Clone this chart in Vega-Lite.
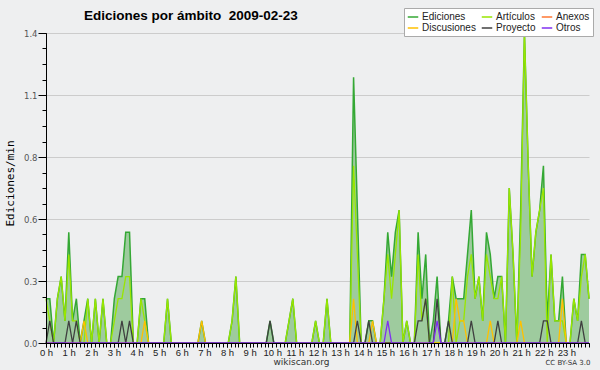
{
"$schema":"https://vega.github.io/schema/vega-lite/v6.json",
"width":543,"height":310,"autosize":{"type":"none"},
"padding":{"left":46,"top":33,"right":11,"bottom":27},
"background":"#eeeff0",
"config":{"view":{"stroke":null,"fill":"#eeeff0"}},
"title":{"text":"Ediciones por ámbito\u00a0\u00a02009-02-23","anchor":"start","frame":"group","dx":38,"offset":0,"dy":26,"baseline":"alphabetic","font":"Liberation Sans","fontSize":13.5,"fontWeight":"bold","color":"#000"},
"data":{"values":[
{"i":0,"E":0.2,"A":0.2,"D":0,"P":0,"O":0},
{"i":1,"E":0.2,"A":0.1,"D":0,"P":0.1,"O":0},
{"i":2,"E":0,"A":0,"D":0,"P":0,"O":0},
{"i":3,"E":0.2,"A":0.2,"D":0,"P":0,"O":0},
{"i":4,"E":0.3,"A":0.3,"D":0,"P":0,"O":0},
{"i":5,"E":0.1,"A":0.1,"D":0,"P":0,"O":0},
{"i":6,"E":0.5,"A":0.4,"D":0,"P":0.1,"O":0},
{"i":7,"E":0.1,"A":0.1,"D":0,"P":0,"O":0},
{"i":8,"E":0.2,"A":0.1,"D":0,"P":0.1,"O":0},
{"i":9,"E":0,"A":0,"D":0,"P":0,"O":0},
{"i":10,"E":0.1,"A":0,"D":0.1,"P":0,"O":0},
{"i":11,"E":0.2,"A":0.2,"D":0,"P":0,"O":0},
{"i":12,"E":0,"A":0,"D":0,"P":0,"O":0},
{"i":13,"E":0.2,"A":0.2,"D":0,"P":0,"O":0},
{"i":14,"E":0,"A":0,"D":0,"P":0,"O":0},
{"i":15,"E":0.2,"A":0.2,"D":0,"P":0,"O":0},
{"i":16,"E":0,"A":0,"D":0,"P":0,"O":0},
{"i":17,"E":0,"A":0,"D":0,"P":0,"O":0},
{"i":18,"E":0.2,"A":0.1,"D":0,"P":0,"O":0},
{"i":19,"E":0.3,"A":0.2,"D":0,"P":0,"O":0},
{"i":20,"E":0.3,"A":0.2,"D":0,"P":0.1,"O":0},
{"i":21,"E":0.5,"A":0.3,"D":0,"P":0,"O":0},
{"i":22,"E":0.5,"A":0.3,"D":0,"P":0.1,"O":0},
{"i":23,"E":0,"A":0,"D":0,"P":0,"O":0},
{"i":24,"E":0,"A":0,"D":0,"P":0,"O":0},
{"i":25,"E":0.2,"A":0.2,"D":0,"P":0,"O":0},
{"i":26,"E":0.2,"A":0.1,"D":0.1,"P":0,"O":0},
{"i":27,"E":0,"A":0,"D":0,"P":0,"O":0},
{"i":28,"E":0,"A":0,"D":0,"P":0,"O":0},
{"i":29,"E":0,"A":0,"D":0,"P":0,"O":0},
{"i":30,"E":0,"A":0,"D":0,"P":0,"O":0},
{"i":31,"E":0,"A":0,"D":0,"P":0,"O":0},
{"i":32,"E":0.2,"A":0.2,"D":0,"P":0,"O":0},
{"i":33,"E":0,"A":0,"D":0,"P":0,"O":0},
{"i":34,"E":0,"A":0,"D":0,"P":0,"O":0},
{"i":35,"E":0,"A":0,"D":0,"P":0,"O":0},
{"i":36,"E":0,"A":0,"D":0,"P":0,"O":0},
{"i":37,"E":0,"A":0,"D":0,"P":0,"O":0},
{"i":38,"E":0,"A":0,"D":0,"P":0,"O":0},
{"i":39,"E":0,"A":0,"D":0,"P":0,"O":0},
{"i":40,"E":0,"A":0,"D":0,"P":0,"O":0},
{"i":41,"E":0.1,"A":0,"D":0.1,"P":0,"O":0},
{"i":42,"E":0,"A":0,"D":0,"P":0,"O":0},
{"i":43,"E":0,"A":0,"D":0,"P":0,"O":0},
{"i":44,"E":0,"A":0,"D":0,"P":0,"O":0},
{"i":45,"E":0,"A":0,"D":0,"P":0,"O":0},
{"i":46,"E":0,"A":0,"D":0,"P":0,"O":0},
{"i":47,"E":0,"A":0,"D":0,"P":0,"O":0},
{"i":48,"E":0,"A":0,"D":0,"P":0,"O":0},
{"i":49,"E":0.1,"A":0.1,"D":0,"P":0,"O":0},
{"i":50,"E":0.3,"A":0.3,"D":0,"P":0,"O":0},
{"i":51,"E":0,"A":0,"D":0,"P":0,"O":0},
{"i":52,"E":0,"A":0,"D":0,"P":0,"O":0},
{"i":53,"E":0,"A":0,"D":0,"P":0,"O":0},
{"i":54,"E":0,"A":0,"D":0,"P":0,"O":0},
{"i":55,"E":0,"A":0,"D":0,"P":0,"O":0},
{"i":56,"E":0,"A":0,"D":0,"P":0,"O":0},
{"i":57,"E":0,"A":0,"D":0,"P":0,"O":0},
{"i":58,"E":0,"A":0,"D":0,"P":0,"O":0},
{"i":59,"E":0.1,"A":0,"D":0,"P":0.1,"O":0},
{"i":60,"E":0,"A":0,"D":0,"P":0,"O":0},
{"i":61,"E":0,"A":0,"D":0,"P":0,"O":0},
{"i":62,"E":0,"A":0,"D":0,"P":0,"O":0},
{"i":63,"E":0,"A":0,"D":0,"P":0,"O":0},
{"i":64,"E":0.1,"A":0.1,"D":0,"P":0,"O":0},
{"i":65,"E":0.2,"A":0.2,"D":0,"P":0,"O":0},
{"i":66,"E":0,"A":0,"D":0,"P":0,"O":0},
{"i":67,"E":0,"A":0,"D":0,"P":0,"O":0},
{"i":68,"E":0,"A":0,"D":0,"P":0,"O":0},
{"i":69,"E":0,"A":0,"D":0,"P":0,"O":0},
{"i":70,"E":0,"A":0,"D":0,"P":0,"O":0},
{"i":71,"E":0.1,"A":0.1,"D":0,"P":0,"O":0},
{"i":72,"E":0,"A":0,"D":0,"P":0,"O":0},
{"i":73,"E":0,"A":0,"D":0,"P":0,"O":0},
{"i":74,"E":0.2,"A":0.2,"D":0,"P":0,"O":0},
{"i":75,"E":0,"A":0,"D":0,"P":0,"O":0},
{"i":76,"E":0,"A":0,"D":0,"P":0,"O":0},
{"i":77,"E":0,"A":0,"D":0,"P":0,"O":0},
{"i":78,"E":0,"A":0,"D":0,"P":0,"O":0},
{"i":79,"E":0,"A":0,"D":0,"P":0,"O":0},
{"i":80,"E":0,"A":0,"D":0,"P":0,"O":0},
{"i":81,"E":1.2,"A":0.8,"D":0.2,"P":0,"O":0},
{"i":82,"E":0.6,"A":0.4,"D":0,"P":0.1,"O":0},
{"i":83,"E":0,"A":0,"D":0,"P":0,"O":0},
{"i":84,"E":0,"A":0,"D":0,"P":0,"O":0},
{"i":85,"E":0.1,"A":0,"D":0,"P":0.1,"O":0},
{"i":86,"E":0.1,"A":0,"D":0.1,"P":0,"O":0},
{"i":87,"E":0,"A":0,"D":0,"P":0,"O":0},
{"i":88,"E":0,"A":0,"D":0,"P":0,"O":0},
{"i":89,"E":0.2,"A":0.2,"D":0,"P":0,"O":0},
{"i":90,"E":0.5,"A":0.4,"D":0,"P":0,"O":0.1},
{"i":91,"E":0.3,"A":0.2,"D":0,"P":0,"O":0},
{"i":92,"E":0.5,"A":0.4,"D":0,"P":0,"O":0},
{"i":93,"E":0.6,"A":0.6,"D":0,"P":0,"O":0},
{"i":94,"E":0,"A":0,"D":0,"P":0,"O":0},
{"i":95,"E":0.1,"A":0.1,"D":0,"P":0,"O":0},
{"i":96,"E":0,"A":0,"D":0,"P":0,"O":0},
{"i":97,"E":0,"A":0,"D":0,"P":0,"O":0},
{"i":98,"E":0.5,"A":0.4,"D":0,"P":0.1,"O":0},
{"i":99,"E":0.2,"A":0.1,"D":0,"P":0.1,"O":0},
{"i":100,"E":0.4,"A":0.2,"D":0,"P":0.2,"O":0},
{"i":101,"E":0,"A":0,"D":0,"P":0,"O":0},
{"i":102,"E":0.1,"A":0,"D":0,"P":0,"O":0},
{"i":103,"E":0.3,"A":0,"D":0,"P":0.2,"O":0.1},
{"i":104,"E":0,"A":0,"D":0,"P":0,"O":0},
{"i":105,"E":0,"A":0,"D":0,"P":0,"O":0},
{"i":106,"E":0.1,"A":0,"D":0,"P":0.1,"O":0},
{"i":107,"E":0.3,"A":0.3,"D":0,"P":0,"O":0},
{"i":108,"E":0.2,"A":0,"D":0.2,"P":0,"O":0},
{"i":109,"E":0.2,"A":0.1,"D":0.1,"P":0,"O":0},
{"i":110,"E":0.2,"A":0.1,"D":0.1,"P":0,"O":0},
{"i":111,"E":0.4,"A":0.3,"D":0,"P":0,"O":0},
{"i":112,"E":0.6,"A":0.4,"D":0,"P":0.1,"O":0},
{"i":113,"E":0.2,"A":0.2,"D":0,"P":0,"O":0},
{"i":114,"E":0.3,"A":0.3,"D":0,"P":0,"O":0},
{"i":115,"E":0.1,"A":0.1,"D":0,"P":0,"O":0},
{"i":116,"E":0.5,"A":0.4,"D":0,"P":0,"O":0},
{"i":117,"E":0.4,"A":0.3,"D":0.1,"P":0,"O":0},
{"i":118,"E":0.2,"A":0.2,"D":0,"P":0,"O":0},
{"i":119,"E":0.3,"A":0.2,"D":0,"P":0.1,"O":0},
{"i":120,"E":0.3,"A":0.3,"D":0,"P":0,"O":0},
{"i":121,"E":0,"A":0,"D":0,"P":0,"O":0},
{"i":122,"E":0.7,"A":0.7,"D":0,"P":0,"O":0},
{"i":123,"E":0.4,"A":0.4,"D":0,"P":0,"O":0},
{"i":124,"E":0,"A":0,"D":0,"P":0,"O":0},
{"i":125,"E":0.6,"A":0.5,"D":0.1,"P":0,"O":0},
{"i":126,"E":1.4,"A":1.4,"D":0,"P":0,"O":0},
{"i":127,"E":0.8,"A":0.8,"D":0,"P":0,"O":0},
{"i":128,"E":0.3,"A":0.3,"D":0,"P":0,"O":0},
{"i":129,"E":0.5,"A":0.5,"D":0,"P":0,"O":0},
{"i":130,"E":0.6,"A":0.6,"D":0,"P":0,"O":0},
{"i":131,"E":0.8,"A":0.7,"D":0,"P":0.1,"O":0},
{"i":132,"E":0.1,"A":0,"D":0,"P":0.1,"O":0},
{"i":133,"E":0.4,"A":0.4,"D":0,"P":0,"O":0},
{"i":134,"E":0.1,"A":0.1,"D":0,"P":0,"O":0},
{"i":135,"E":0.1,"A":0.1,"D":0,"P":0,"O":0},
{"i":136,"E":0.3,"A":0.1,"D":0.2,"P":0,"O":0},
{"i":137,"E":0,"A":0,"D":0,"P":0,"O":0},
{"i":138,"E":0,"A":0,"D":0,"P":0,"O":0},
{"i":139,"E":0.2,"A":0.2,"D":0,"P":0,"O":0},
{"i":140,"E":0.1,"A":0.1,"D":0,"P":0,"O":0},
{"i":141,"E":0.4,"A":0.3,"D":0,"P":0.1,"O":0},
{"i":142,"E":0.4,"A":0.4,"D":0,"P":0,"O":0},
{"i":143,"E":0.2,"A":0.2,"D":0,"P":0,"O":0}
]},
"layer":[
{"mark":{"type":"area","color":"#9ecb9e"},
 "encoding":{
  "x":{"field":"i","type":"quantitative","scale":{"domain":[0,143],"nice":false,"zero":false},
   "axis":{"orient":"bottom","zindex":1,"grid":false,"values":[0,5.9583,11.9167,17.875,23.8333,29.7917,35.75,41.7083,47.6667,53.625,59.5833,65.5417,71.5,77.4583,83.4167,89.375,95.3333,101.2917,107.25,113.2083,119.1667,125.125,131.0833,137.0417],
    "labelExpr":"round(datum.value*24/143) + ' h'","labelOverlap":false,"labelFlush":false,"labelFont":"Liberation Sans","labelFontSize":9.5,"labelColor":"#222","labelPadding":0,"tickSize":4,"tickColor":"#000","domainColor":"#000",
    "title":"wikiscan.org","titleFont":"DejaVu Sans","titleFontSize":9,"titleFontWeight":"normal","titleColor":"#333","titleX":255,"titleY":18,"titleAlign":"center","titleBaseline":"middle"}},
  "y":{"field":"E","type":"quantitative","scale":{"domain":[0,1.4],"nice":false,"zero":true},
   "axis":{"orient":"left","zindex":0,"values":[0,0.28,0.56,0.84,1.12,1.4],"format":".1f","grid":true,"gridColor":"#cccccc","tickSize":8,"tickColor":"#000","domainColor":"#000","labelFont":"DejaVu Sans","labelFontSize":8.5,"labelColor":"#555","labelPadding":1,
    "title":"Ediciones/min","titleFont":"DejaVu Sans Mono","titleFontSize":11,"titleFontWeight":"normal","titleColor":"#000","titleX":-36,"titleY":150,"titleAngle":-90,"titleAlign":"center","titleBaseline":"middle"}}
 }},
{"mark":{"type":"line","strokeWidth":1.5},
 "encoding":{
  "x":{"field":"i","type":"quantitative",
   "axis":{"orient":"bottom","zindex":1,"grid":false,"labels":false,"tickSize":4,"tickColor":"#000","domainColor":"#000",
    "values":[0,0.993,1.986,2.979,3.972,4.965,5.958,6.951,7.944,8.938,9.931,10.924,11.917,12.91,13.903,14.896,15.889,16.882,17.875,18.868,19.861,20.854,21.847,22.84,23.833,24.826,25.819,26.813,27.806,28.799,29.792,30.785,31.778,32.771,33.764,34.757,35.75,36.743,37.736,38.729,39.722,40.715,41.708,42.701,43.694,44.688,45.681,46.674,47.667,48.66,49.653,50.646,51.639,52.632,53.625,54.618,55.611,56.604,57.597,58.59,59.583,60.576,61.569,62.563,63.556,64.549,65.542,66.535,67.528,68.521,69.514,70.507,71.5,72.493,73.486,74.479,75.472,76.465,77.458,78.451,79.444,80.438,81.431,82.424,83.417,84.41,85.403,86.396,87.389,88.382,89.375,90.368,91.361,92.354,93.347,94.34,95.333,96.326,97.319,98.313,99.306,100.299,101.292,102.285,103.278,104.271,105.264,106.257,107.25,108.243,109.236,110.229,111.222,112.215,113.208,114.201,115.194,116.188,117.181,118.174,119.167,120.16,121.153,122.146,123.139,124.132,125.125,126.118,127.111,128.104,129.097,130.09,131.083,132.076,133.069,134.063,135.056,136.049,137.042,138.035,139.028,140.021,141.014,142.007,143],
    "title":"CC BY-SA 3.0","titleFont":"DejaVu Sans","titleFontSize":7,"titleFontWeight":"normal","titleColor":"#333","titleX":544,"titleY":19,"titleAlign":"right","titleBaseline":"middle"}},
  "y":{"field":"E","type":"quantitative",
   "axis":{"orient":"left","zindex":1,"grid":false,"labels":false,"tickSize":4,"tickColor":"#000","domainColor":"#000","title":null,
    "values":[0.07,0.14,0.21,0.35,0.42,0.49,0.63,0.7,0.77,0.91,0.98,1.05,1.19,1.26,1.33]}},
  "color":{"datum":"Ediciones","type":"nominal",
   "scale":{"domain":["Ediciones","Discusiones","Artículos","Proyecto","Anexos","Otros"],"range":["#34a834","#ffc000","#99e600","#404040","#ff7733","#8030f0"]},
   "legend":{"orient":"none","legendX":358,"legendY":-25,"columns":3,"title":null,"symbolType":"stroke","symbolSize":110,"symbolStrokeWidth":1.5,"labelFont":"Liberation Sans","labelFontSize":10,"labelColor":"#222","labelOffset":3,"fillColor":"#ffffff","strokeColor":"#aaaaaa","padding":3,"rowPadding":0,"columnPadding":2,"labelLimit":120}}
 }},
{"mark":{"type":"line","strokeWidth":1.3},
 "encoding":{"x":{"field":"i","type":"quantitative","axis":null},"y":{"field":"A","type":"quantitative","axis":null},"color":{"datum":"Artículos","type":"nominal"}}},
{"mark":{"type":"line","strokeWidth":1.3},
 "encoding":{"x":{"field":"i","type":"quantitative","axis":null},"y":{"field":"D","type":"quantitative","axis":null},"color":{"datum":"Discusiones","type":"nominal"}}},
{"mark":{"type":"line","strokeWidth":1.3},
 "encoding":{"x":{"field":"i","type":"quantitative","axis":null},"y":{"field":"P","type":"quantitative","axis":null},"color":{"datum":"Proyecto","type":"nominal"}}},
{"mark":{"type":"line","strokeWidth":1.3},
 "encoding":{"x":{"field":"i","type":"quantitative","axis":null},"y":{"field":"O","type":"quantitative","axis":null},"color":{"datum":"Otros","type":"nominal"}}}
],
"resolve":{"axis":{"x":"independent","y":"independent"}}
}
